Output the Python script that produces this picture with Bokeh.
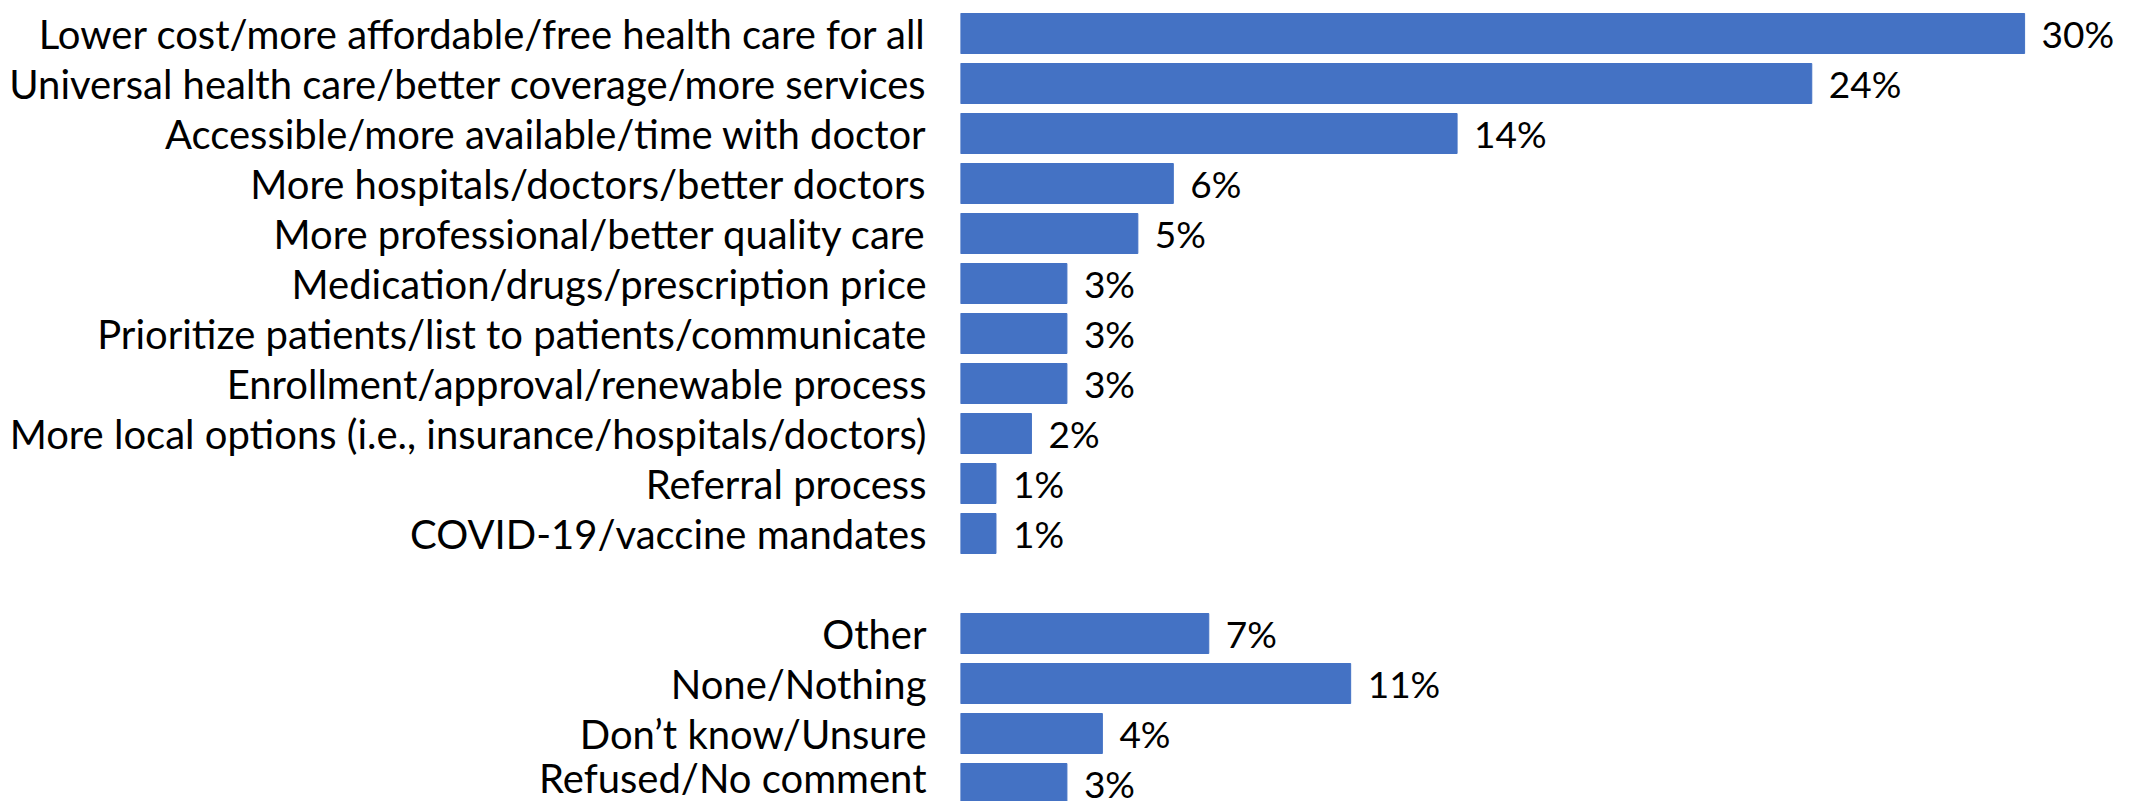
from bokeh.plotting import figure
from bokeh.models import Range1d, FixedTicker, ColumnDataSource
from bokeh.core.properties import value
from bokeh.embed import file_html
from bokeh.resources import INLINE

categories = [
    "Lower cost/more affordable/free health care for all",
    "Universal health care/better coverage/more services",
    "Accessible/more available/time with doctor",
    "More hospitals/doctors/better doctors",
    "More professional/better quality care",
    "Medication/drugs/prescription price",
    "Prioritize patients/list to patients/communicate",
    "Enrollment/approval/renewable process",
    "More local options (i.e., insurance/hospitals/doctors)",
    "Referral process",
    "COVID-19/vaccine mandates",
    "",
    "Other",
    "None/Nothing",
    "Don\u2019t know/Unsure",
    "Refused/No comment",
]
values = [30, 24, 14, 6, 5, 3, 3, 3, 2, 1, 1, None, 7, 11, 4, 3]

FONT = "Lato"
CAT_FS = "40px"
VAL_FS = "37px"

n = len(categories)
ys, xs, labels = [], [], []
overrides = {}
for i, (c, v) in enumerate(zip(categories, values)):
    y = n - 1 - i
    if v is None:
        continue
    ys.append(y)
    xs.append(v)
    labels.append(f"{v}%")
    overrides[y] = c

src = ColumnDataSource(dict(y=ys, x=xs, label=labels))

W, H = 2123, 801
left, top = 960, 8
row_px = 50.0
px_per_unit = 35.47
p = figure(width=W, height=H, output_backend="svg", toolbar_location=None,
           x_range=Range1d(0, (W - left) / px_per_unit),
           y_range=Range1d(n - 0.5 - (H - top) / row_px, n - 0.5),
           min_border_left=left, min_border_right=0, min_border_top=top, min_border_bottom=0)

p.hbar(y="y", right="x", left=0, height=0.8, source=src, fill_color="#4472C4", line_color="#4472C4")
p.text(x="x", y="y", text="label", source=src, x_offset=17, text_baseline="middle",
       text_align="left", text_font=value(FONT), text_font_size=VAL_FS, text_color="#000000")

p.xaxis.visible = False
p.yaxis.ticker = FixedTicker(ticks=ys)
p.yaxis.major_label_overrides = overrides
p.yaxis.major_label_text_font = FONT
p.yaxis.major_label_text_font_size = CAT_FS
p.yaxis.major_label_text_color = "#000000"
p.yaxis.major_label_standoff = 28
p.yaxis.axis_line_color = None
p.yaxis.major_tick_line_color = None
p.yaxis.minor_tick_line_color = None
p.grid.visible = False
p.outline_line_color = None

open("out.html", "w").write(file_html(p, INLINE))
